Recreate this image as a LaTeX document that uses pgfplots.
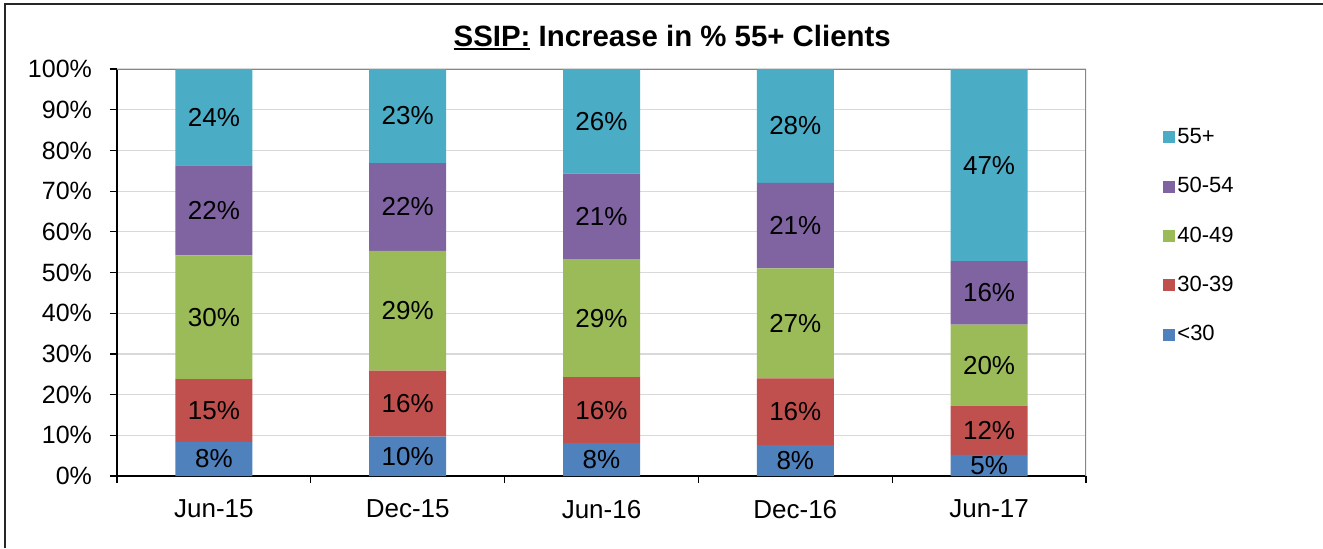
\documentclass[border=0pt]{standalone}
\usepackage{fontspec}
\setmainfont{Liberation Sans}
\usepackage{pgfplots}
\pgfplotsset{compat=1.18}

\definecolor{c55}{HTML}{4BACC6}
\definecolor{c50}{HTML}{8064A2}
\definecolor{c40}{HTML}{9BBB59}
\definecolor{c30}{HTML}{C0504D}
\definecolor{c00}{HTML}{4F81BD}
\definecolor{gridgray}{HTML}{D9D9D9}
\definecolor{boxgray}{HTML}{868686}

\newcommand\ttlul[1]{\setbox0\hbox{#1}\rlap{\rule[-2.2pt]{\wd0}{1.3pt}}\box0}

\begin{document}
\begin{tikzpicture}
\useasboundingbox (-58.5pt,-36pt) rectangle (603pt,238pt);
\begin{axis}[
  at={(0,0)}, anchor=south west,
  scale only axis, width=484.5pt, height=203.5pt,
  ybar stacked, bar width=38.5pt,
  xmin=-0.5, xmax=4.5, ymin=0, ymax=100,
  enlargelimits=false,
  /pgf/number format/assume math mode=true,
  axis x line*=bottom, axis y line*=left,
  axis line style={black, line width=0.6pt},
  xtick={-0.5,0.5,1.5,2.5,3.5,4.5},
  xticklabels={Jun-15,Dec-15,Jun-16,Dec-16,Jun-17,},
  xticklabel style={xshift=48.45pt, yshift=-5pt, font=\fontsize{13}{15}\selectfont},
  ytick={0,10,...,100},
  yticklabel={\pgfmathprintnumber{\tick}\%},
  yticklabel style={xshift=-5.5pt, font=\fontsize{12.5}{15}\selectfont},
  tick align=outside, major tick length=3.5pt,
  tick style={black, line width=0.6pt},
  ymajorgrids, grid style={gridgray, line width=0.6pt},
  visualization depends on={rawy \as \rawy},
  nodes near coords={\pgfmathprintnumber[fixed,precision=0]{\rawy}\%},
  every node near coord/.append style={anchor=center,
    font=\fontsize{13}{15}\selectfont, text=black},
  title={\ttlul{SSIP:}\ Increase in \% 55+ Clients},
  title style={font=\bfseries\fontsize{14.7}{17}\selectfont, at={(0.573,1)}, anchor=base, yshift=5.5pt},
  legend style={draw=none, fill=none, inner sep=0pt, at={(1,1)}, anchor=north west,
    xshift=38.5pt, yshift=-28.5pt, font=\fontsize{11}{12}\selectfont,
    row sep=13.5pt, nodes={inner sep=1pt}},
  legend cell align=left,
  reverse legend,
  legend image code/.code={\fill[#1] (0pt,-3pt) rectangle (6pt,3pt);},
]
\addplot[fill=c00, draw=none] coordinates {(0,8.4) (1,9.7) (2,8.1) (3,7.6) (4,5.2)};
\addplot[fill=c30, draw=none] coordinates {(0,15.4) (1,16.2) (2,16.2) (3,16.4) (4,12.1)};
\addplot[fill=c40, draw=none] coordinates {(0,30.4) (1,29.4) (2,29.0) (3,27.0) (4,19.9)};
\addplot[fill=c50, draw=none] coordinates {(0,22.1) (1,21.6) (2,21.0) (3,21.0) (4,15.6)};
\addplot[fill=c55, draw=none] coordinates {(0,23.7) (1,23.1) (2,25.7) (3,28.0) (4,47.2)};
\legend{<30,30-39,40-49,50-54,55+}
\draw[boxgray, line width=0.6pt] (rel axis cs:0,1) -- (rel axis cs:1,1) -- (rel axis cs:1,0);
\end{axis}
\draw[line width=1pt, black!85] (-56pt,-36pt) -- (-56pt,236pt) -- (603pt,236pt);
\end{tikzpicture}
\end{document}
